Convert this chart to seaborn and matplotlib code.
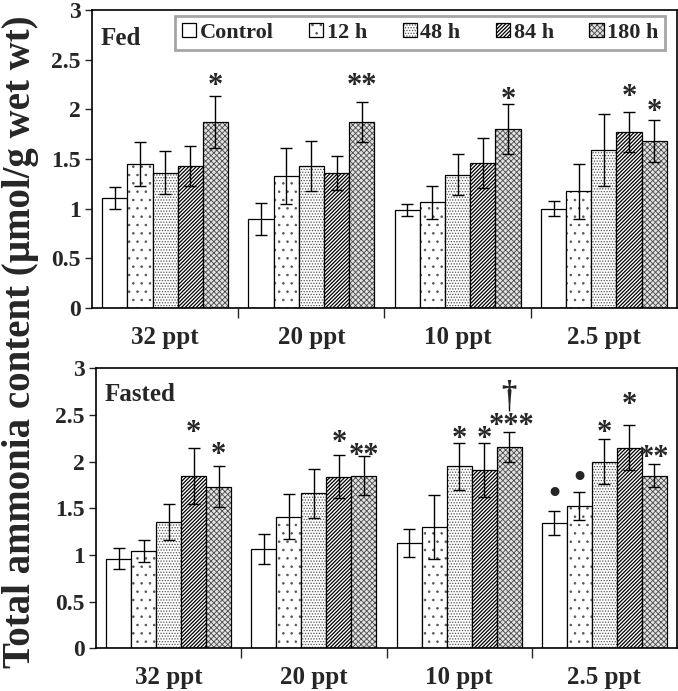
import numpy as np
import pandas as pd
import matplotlib
matplotlib.use("Agg")
import matplotlib.pyplot as plt
import matplotlib.colors as mcolors
import seaborn as sns

salinities = ["32 ppt", "20 ppt", "10 ppt", "2.5 ppt"]
times = ["Control", "12 h", "48 h", "84 h", "180 h"]

fed_mean = {
    "Control": [1.11, 0.90, 0.99, 1.00],
    "12 h":    [1.45, 1.33, 1.065, 1.175],
    "48 h":    [1.365, 1.43, 1.345, 1.59],
    "84 h":    [1.43, 1.36, 1.46, 1.77],
    "180 h":   [1.87, 1.87, 1.80, 1.68],
}
fed_err = {
    "Control": [0.11, 0.16, 0.06, 0.075],
    "12 h":    [0.22, 0.28, 0.165, 0.28],
    "48 h":    [0.22, 0.25, 0.21, 0.36],
    "84 h":    [0.20, 0.17, 0.25, 0.20],
    "180 h":   [0.26, 0.20, 0.25, 0.21],
}
fasted_mean = {
    "Control": [0.96, 1.06, 1.125, 1.34],
    "12 h":    [1.04, 1.41, 1.30, 1.52],
    "48 h":    [1.35, 1.66, 1.95, 2.00],
    "84 h":    [1.85, 1.84, 1.91, 2.15],
    "180 h":   [1.73, 1.85, 2.16, 1.85],
}
fasted_err = {
    "Control": [0.11, 0.16, 0.15, 0.13],
    "12 h":    [0.12, 0.24, 0.34, 0.15],
    "48 h":    [0.19, 0.26, 0.25, 0.24],
    "84 h":    [0.30, 0.23, 0.29, 0.24],
    "180 h":   [0.22, 0.21, 0.16, 0.12],
}
fed_marks = {
    "Control": ["", "", "", ""],
    "12 h":    ["", "", "", ""],
    "48 h":    ["", "", "", ""],
    "84 h":    ["", "", "", "*"],
    "180 h":   ["*", "**", "*", "*"],
}
fasted_marks = {
    "Control": ["", "", "", "•"],
    "12 h":    ["", "", "", "•"],
    "48 h":    ["", "", "*", "*"],
    "84 h":    ["*", "*", "*", "*"],
    "180 h":   ["*", "**", "***", "**"],
}
fasted_dagger = {
    "Control": ["", "", "", ""],
    "12 h":    ["", "", "", ""],
    "48 h":    ["", "", "", ""],
    "84 h":    ["", "", "", ""],
    "180 h":   ["", "", "†", ""],
}

# gap (data units) between error-bar top and centre of the significance mark
fed_gap = {
    "84 h":  [0.15, 0.15, 0.15, 0.22],
    "180 h": [0.17, 0.23, 0.11, 0.15],
}
fasted_gap = {
    "Control": [0.2, 0.2, 0.2, 0.2],
    "12 h":    [0.18, 0.18, 0.18, 0.18],
    "48 h":    [0.14, 0.14, 0.11, 0.14],
    "84 h":    [0.23, 0.20, 0.11, 0.29],
    "180 h":   [0.19, 0.07, 0.13, 0.14],
}

hatches = ["", "..", "......", "/////////", "xxxxxx"]
faces = ["white", "white", "white", "white", "#e2e2e2"]
hatch_cols = ["black", "#555555", "#505050", "black", "#4a4a4a"]
hatch_lws = [0.6, 0.6, 0.6, 0.9, 0.6]

sns.set_theme(style="ticks")
plt.rcParams["font.family"] = ["Liberation Serif", "DejaVu Serif"]
plt.rcParams["font.weight"] = "bold"
plt.rcParams["hatch.linewidth"] = 0.6
plt.rcParams["hatch.color"] = "black"

fig = plt.figure(figsize=(6.78, 6.91), dpi=100)
ax1 = fig.add_axes([0.1357, 0.554, 0.8628, 0.4315])
ax2 = fig.add_axes([0.1416, 0.062, 0.857, 0.405])


def make_df(mean):
    rows = []
    for t in times:
        for s, v in zip(salinities, mean[t]):
            rows.append({"Salinity": s, "Time": t, "Value": v})
    return pd.DataFrame(rows)


def style_patch(p, k):
    p.set_facecolor(faces[k])
    p.set_hatch(hatches[k])
    p.set_edgecolor("black")
    p._hatch_color = mcolors.to_rgba(hatch_cols[k])
    if hasattr(p, "set_hatch_linewidth"):
        p.set_hatch_linewidth(hatch_lws[k])


def put_mark(ax, x, yc, m):
    if m == "•":
        ax.annotate(m, (x, yc), xytext=(0, -0.36 * 22), textcoords="offset points",
                    ha="center", va="baseline", fontsize=22, fontweight="normal",
                    family=["DejaVu Sans"])
    else:
        ax.annotate(m, (x, yc), xytext=(0, -0.47 * 22), textcoords="offset points",
                    ha="center", va="baseline", fontsize=22, fontweight="bold")


def draw(ax, mean, err, marks, gaps, label, legend, dag=None):
    df = make_df(mean)
    sns.barplot(data=df, x="Salinity", y="Value", hue="Time", order=salinities,
                hue_order=times, errorbar=None, width=0.86, ax=ax,
                edgecolor="black", linewidth=0.9, legend=legend)
    for k, (cont, t) in enumerate(zip(ax.containers, times)):
        xs, ys = [], []
        for bar in cont:
            style_patch(bar, k)
            xs.append(bar.get_x() + bar.get_width() / 2)
            ys.append(bar.get_height())
        ax.errorbar(xs, ys, yerr=err[t], fmt="none", ecolor="black",
                    elinewidth=1.0, capsize=4, capthick=1.0)
        for i, (x, y, e, m) in enumerate(zip(xs, ys, err[t], marks[t])):
            top = y + e
            if m:
                put_mark(ax, x + (0.02 if m == "***" else 0), top + gaps[t][i], m)
            if dag is not None and dag[t][i]:
                ax.vlines(x, top + 0.22, top + 0.36, color="black", lw=1.0)
                ax.annotate(dag[t][i], (x, top + 0.42), xytext=(0, -0.3 * 22),
                            textcoords="offset points", ha="center",
                            va="baseline", fontsize=22, fontweight="bold")
    ax.set_ylim(0, 3)
    ax.set_xlim(-0.5, 3.5)
    ax.set_yticks([0, 0.5, 1, 1.5, 2, 2.5, 3])
    ax.set_yticklabels(["0", "0.5", "1", "1.5", "2", "2.5", "3"],
                       fontsize=17, fontweight="bold")
    ax.set_xticks([0, 1, 2, 3])
    ax.set_xticklabels(salinities, fontsize=18, fontweight="bold")
    ax.tick_params(axis="x", length=0, pad=13)
    ax.set_xticks([0.5, 1.5, 2.5], minor=True)
    ax.tick_params(axis="x", which="minor", length=7, width=1, direction="out")
    ax.tick_params(axis="y", length=5, width=1, direction="out", pad=3)
    ax.set_xlabel("")
    ax.set_ylabel("")
    ax.text(0.015, 0.905, label, transform=ax.transAxes, fontsize=18,
            fontweight="bold", ha="left", va="center")
    for sp in ax.spines.values():
        sp.set_color("black")
        sp.set_linewidth(1.2)


draw(ax1, fed_mean, fed_err, fed_marks, fed_gap, "Fed", True)
draw(ax2, fasted_mean, fasted_err, fasted_marks, fasted_gap, "Fasted", False,
     fasted_dagger)

leg = ax1.legend(ncol=5, loc="upper right", bbox_to_anchor=(0.98, 0.98),
                 borderaxespad=0,
                 frameon=True, fancybox=False, edgecolor="#909090",
                 handlelength=0.65, handleheight=0.65, handletextpad=0.15,
                 columnspacing=1.6, borderpad=0.3,
                 prop={"size": 16, "weight": "bold"})
leg.get_frame().set_linewidth(2)
for k, h in enumerate(leg.legend_handles):
    style_patch(h, k)

fig.text(0.03, 0.505, "Total ammonia content (µmol/g wet wt)", rotation=90,
         ha="center", va="center", fontsize=28, fontweight="bold")

fig.savefig("out.png", dpi=100)
